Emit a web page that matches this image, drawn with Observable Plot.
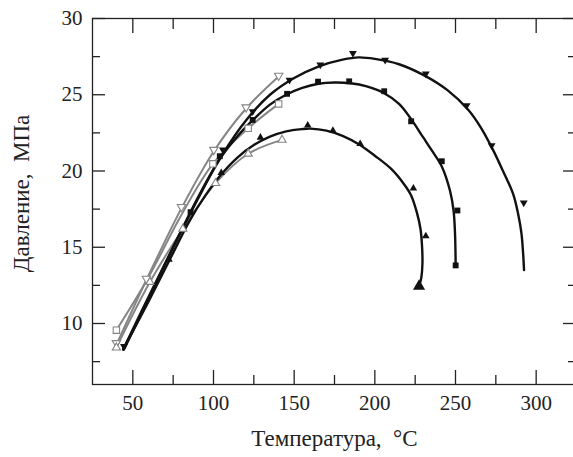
<!DOCTYPE html>
<html><head><meta charset="utf-8">
<script src="https://cdn.jsdelivr.net/npm/d3@7"></script>
<script src="https://cdn.jsdelivr.net/npm/@observablehq/plot@0.6"></script>
<style>body{margin:0;background:#fff} svg{display:block}</style>
</head><body>
<script>
// Axis ticks
const xMajor = [50, 100, 150, 200, 250, 300];
const xMinor = [75, 125, 175, 225, 275];
const yMajor = [10, 15, 20, 25, 30];
const yMinor = [7.5, 12.5, 17.5, 22.5, 27.5];
const xLabel = "Температура,  °C";
const yLabel = "Давление,  МПа";

// Measured points (markers)
const downFilledT = [44.5, 105.8, 124.3, 147.1, 166.2, 186.4, 206.4, 231.6, 256.9, 272.4, 292.3];
const downFilledP = [8.5, 21.4, 23.9, 25.97, 26.97, 27.72, 27.28, 26.37, 24.29, 21.67, 17.92];
const squareFilledT = [85.8, 103.9, 124.3, 145.6, 164.8, 184.1, 205.8, 222.5, 241.5, 251.2, 250.1];
const squareFilledP = [17.3, 20.97, 23.35, 25.06, 25.86, 25.88, 25.23, 23.26, 20.64, 17.41, 13.81];
const upFilledT = [72.4, 104.8, 129.1, 158.4, 174.0, 190.9, 223.9, 231.6, 227.4];
const upFilledP = [14.2, 19.88, 22.2, 23.0, 22.65, 21.78, 18.87, 15.73, 12.44];
const downOpenT = [39.8, 58.4, 80.1, 100.2, 120.2, 140.4];
const downOpenP = [8.72, 12.94, 17.65, 21.39, 24.18, 26.25];
const squareOpenT = [39.8, 99.6, 121.5, 140.4];
const squareOpenP = [9.56, 20.47, 22.8, 24.4];
const upOpenT = [39.8, 60.6, 81.0, 101.3, 121.5, 142.5];
const upOpenP = [8.42, 12.72, 16.2, 19.2, 21.13, 22.04];

// Fitted curves
const downCurveT = [44.5, 60, 75, 90, 105, 120, 135, 150, 165, 180, 190, 200, 215, 230, 245, 258, 266, 273.4, 279, 285.7, 288.8, 290.9, 292.5];
const downCurveP = [8.3, 11.7, 15.0, 18.2, 21.0, 23.3, 25.0, 26.1, 26.85, 27.3, 27.45, 27.35, 27.0, 26.3, 25.3, 24.0, 22.8, 21.35, 20.1, 18.5, 17.2, 15.9, 13.5];
const squareCurveT = [44, 60, 75, 90, 104, 115, 125, 135, 145, 155, 165, 175, 185, 195, 205, 215, 222.5, 230, 235.3, 241.5, 246.6, 248.8, 249.7, 250.1];
const squareCurveP = [8.3, 11.8, 15.0, 18.1, 20.8, 22.3, 23.4, 24.35, 25.0, 25.45, 25.72, 25.8, 25.75, 25.55, 25.15, 24.4, 23.4, 22.2, 21.35, 20.3, 18.7, 17.4, 15.9, 13.8];
const upCurveT = [44, 60, 72, 85, 95, 105, 115, 125, 135, 145, 155, 160, 170, 180, 190, 200, 210, 218, 222.5, 226, 228.3, 229.3, 229.5, 228.8, 227.6];
const upCurveP = [8.3, 11.5, 14.0, 16.7, 18.4, 19.8, 20.9, 21.7, 22.25, 22.6, 22.75, 22.78, 22.65, 22.3, 21.75, 21.0, 20.15, 19.15, 18.4, 17.3, 16.2, 15.0, 13.9, 13.0, 12.5];
const downOpenCurveT = [39.8, 58.4, 80.1, 100.2, 120.2, 140.4];
const downOpenCurveP = [8.6, 12.85, 17.55, 21.3, 24.1, 26.2];
const squareOpenCurveT = [39.8, 59, 80, 99.6, 121.5, 140.4];
const squareOpenCurveP = [9.56, 12.9, 17.1, 20.47, 22.8, 24.4];
const upOpenCurveT = [39.8, 60.6, 81.0, 101.3, 121.5, 142.5];
const upOpenCurveP = [8.42, 12.72, 16.2, 19.2, 21.13, 22.04];

const rows = (T, P) => T.map((t, i) => ({t, p: P[i]}));
const grayLines = [
  rows(downOpenCurveT, downOpenCurveP),
  rows(squareOpenCurveT, squareOpenCurveP),
  rows(upOpenCurveT, upOpenCurveP)
];
const blackLines = [
  rows(downCurveT, downCurveP),
  rows(squareCurveT, squareCurveP),
  rows(upCurveT, upCurveP)
];
const upFilled = rows(upFilledT, upFilledP);

const GRAY = "#858585";
const font = "'Liberation Serif', 'Times New Roman', serif";

const marks = [
  Plot.frame({stroke: "#222", strokeWidth: 1.3}),
  // inward ticks on all four sides
  Plot.axisX({anchor: "bottom", ticks: xMajor, tickSize: -14, tickFormat: () => "", label: null, strokeWidth: 1.3}),
  Plot.axisX({anchor: "bottom", ticks: xMinor, tickSize: -9, tickFormat: () => "", label: null, strokeWidth: 1.3}),
  Plot.axisX({anchor: "top", ticks: xMajor, tickSize: -14, tickFormat: () => "", label: null, strokeWidth: 1.3}),
  Plot.axisX({anchor: "top", ticks: xMinor, tickSize: -10, tickFormat: () => "", label: null, strokeWidth: 1.3}),
  Plot.axisY({anchor: "left", ticks: yMajor, tickSize: -13, tickFormat: () => "", label: null, strokeWidth: 1.3}),
  Plot.axisY({anchor: "left", ticks: yMinor, tickSize: -8, tickFormat: () => "", label: null, strokeWidth: 1.3}),
  Plot.axisY({anchor: "right", ticks: yMajor, tickSize: -14, tickFormat: () => "", label: null, strokeWidth: 1.3}),
  Plot.axisY({anchor: "right", ticks: yMinor, tickSize: -9, tickFormat: () => "", label: null, strokeWidth: 1.3}),
  // tick labels
  Plot.axisX({anchor: "bottom", ticks: xMajor, tickSize: 0, tickPadding: 11, fontSize: 21, label: null, fill: "#222"}),
  Plot.axisY({anchor: "left", ticks: yMajor, tickSize: 0, tickPadding: 10, fontSize: 21, label: null, fill: "#222"}),
  // axis titles
  Plot.text([xLabel], {frameAnchor: "bottom", dy: 54, lineAnchor: "middle", textAnchor: "middle", fontSize: 23, fill: "#222", fontFamily: font}),
  Plot.text([yLabel], {frameAnchor: "left", dx: -80, dy: -8, rotate: -90, lineAnchor: "top", textAnchor: "middle", fontSize: 23, fill: "#222", fontFamily: font}),
  // gray (open) series
  ...grayLines.map(d => Plot.line(d, {x: "t", y: "p", stroke: GRAY, strokeWidth: 2, curve: "catmull-rom"})),
  // black (filled) series
  ...blackLines.map(d => Plot.line(d, {x: "t", y: "p", stroke: "#111", strokeWidth: 2.4, curve: "catmull-rom"})),
  Plot.dot(rows(downOpenT, downOpenP), {x: "t", y: "p", symbol: "triangle", rotate: 180, r: 3.1, fill: "white", stroke: GRAY, strokeWidth: 1.1}),
  Plot.dot(rows(squareOpenT, squareOpenP), {x: "t", y: "p", symbol: "square", r: 3.6, fill: "white", stroke: GRAY, strokeWidth: 1.1}),
  Plot.dot(rows(upOpenT, upOpenP), {x: "t", y: "p", symbol: "triangle", r: 3.0, fill: "white", stroke: GRAY, strokeWidth: 1.1}),
  Plot.dot(rows(downFilledT, downFilledP), {x: "t", y: "p", symbol: "triangle", rotate: 180, r: 2.9, fill: "#111"}),
  Plot.dot(rows(squareFilledT, squareFilledP), {x: "t", y: "p", symbol: "square", r: 3.3, fill: "#111"}),
  Plot.dot(upFilled.slice(0, -1), {x: "t", y: "p", symbol: "triangle", r: 2.8, fill: "#111"}),
  Plot.dot(upFilled.slice(-1), {x: "t", y: "p", symbol: "triangle", r: 4.5, fill: "#111"})
];

const chart = Plot.plot({
  width: 573,
  height: 457,
  marginLeft: 92,
  marginRight: -3,
  marginTop: 18,
  marginBottom: 73,
  style: {fontFamily: font, background: "white", color: "#222"},
  x: {domain: [25, 325]},
  y: {domain: [6, 30]},
  marks
});
document.body.appendChild(chart);
</script>
</body></html>
